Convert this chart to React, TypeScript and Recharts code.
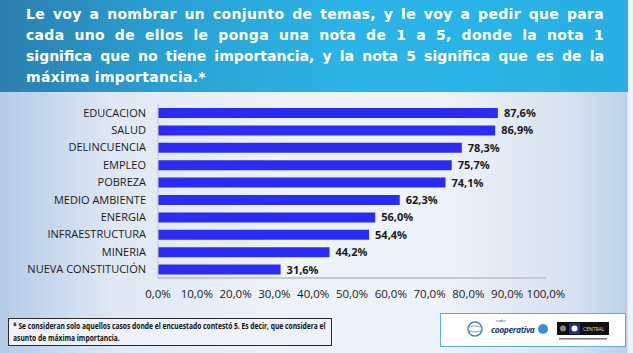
import React from 'react';
import { BarChart, Bar, XAxis, YAxis, LabelList } from 'recharts';

const temas = [
  'EDUCACION',
  'SALUD',
  'DELINCUENCIA',
  'EMPLEO',
  'POBREZA',
  'MEDIO AMBIENTE',
  'ENERGIA',
  'INFRAESTRUCTURA',
  'MINERIA',
  'NUEVA CONSTITUCIÓN',
];
const porcentajes = [87.6, 86.9, 78.3, 75.7, 74.1, 62.3, 56.0, 54.4, 44.2, 31.6];
const xTicks = [0, 10, 20, 30, 40, 50, 60, 70, 80, 90, 100];

const tituloLineas = [
  'Le voy a nombrar un conjunto de temas, y le voy a pedir que para',
  'cada uno de ellos le ponga una nota de 1 a 5, donde la nota 1',
  'significa que no tiene importancia, y la nota 5 significa que es de la',
  'máxima importancia.*',
];
const notaLineas = [
  '* Se consideran solo aquellos casos donde el encuestado contestó 5. Es decir, que considera el',
  'asunto de máxima importancia.',
];

const data = temas.map((tema, i) => ({ tema, valor: porcentajes[i] }));

const pct = (v: number) => `${Number(v).toFixed(1).replace('.', ',')}%`;

const font = "'Open Sans', 'DejaVu Sans', sans-serif";

// tick sin ajuste de línea para que "NUEVA CONSTITUCIÓN" no se parta
const CategoryTick = (props: any) => {
  const { x, y, payload } = props;
  return (
    <text x={x} y={y} dy="0.35em" textAnchor="end" fill="#1a1a1a" fontSize={11} fontFamily={font}>
      {payload.value}
    </text>
  );
};

export default function App() {
  return (
    <div
      style={{
        position: 'absolute',
        left: 0,
        top: 0,
        width: 633,
        height: 353,
        overflow: 'hidden',
        fontFamily: font,
        background: 'linear-gradient(90deg, #b3cbe8 0%, #dfe8f4 18%, #eef2f9 45%, #eef2f9 70%, #d6e2f1 90%, #bcd1ea 99%, #eef3fa 99.3%)',
      }}
    >
      {/* cabecera */}
      <div
        style={{
          position: 'absolute',
          left: 0,
          top: 0,
          width: 628,
          height: 92,
          background: 'linear-gradient(90deg, #2b7fae 0%, #2a9fd2 25%, #2cb4e6 55%, #2ab3e6 80%, #28aee2 100%)',
        }}
      />
      <div
        style={{
          position: 'absolute',
          left: 26,
          top: 4,
          width: 578,
          color: '#fff',
          fontFamily: "'DejaVu Sans', sans-serif",
          fontWeight: 700,
          fontSize: 14,
          lineHeight: '21px',
        }}
      >
        {tituloLineas.map((l, i) => (
          <div
            key={i}
            style={{
              whiteSpace: 'nowrap',
              textAlign: i < tituloLineas.length - 1 ? 'justify' : 'left',
              textAlignLast: i < tituloLineas.length - 1 ? 'justify' : 'left',
              letterSpacing: i === 2 ? 0 : 0.3,
            }}
          >
            {l}
          </div>
        ))}
      </div>

      <div style={{ position: 'absolute', left: 0, top: 0 }}>
        <BarChart
          width={633}
          height={310}
          data={data}
          layout="vertical"
          margin={{ top: 104, right: 87, bottom: 0, left: 0 }}
          barCategoryGap={0}
        >
          <XAxis
            type="number"
            domain={[0, 100]}
            ticks={xTicks}
            tickFormatter={pct}
            axisLine={{ stroke: '#c4c8cf', strokeWidth: 2 }}
            tickLine={false}
            tickSize={0}
            tickMargin={12}
            height={32}
            interval={0}
            tick={{ fill: '#1a1a1a', fontSize: 11.5, fontFamily: font }}
          />
          <YAxis
            type="category"
            dataKey="tema"
            width={158}
            axisLine={{ stroke: '#c4c8cf', strokeWidth: 1 }}
            tickLine={false}
            tickSize={0}
            tickMargin={12}
            interval={0}
            tick={<CategoryTick />}
          />
          <Bar dataKey="valor" fill="#2b2bf2" barSize={10} isAnimationActive={false}>
            <LabelList
              dataKey="valor"
              position="right"
              offset={6}
              formatter={(v: any) => pct(v)}
              style={{ fill: '#1a1a1a', fontSize: 11, fontWeight: 700, fontFamily: font }}
            />
          </Bar>
        </BarChart>
      </div>

      {/* nota al pie */}
      <div
        style={{
          position: 'absolute',
          left: 8,
          top: 318,
          width: 324,
          height: 28,
          border: '1px solid #2a2a2a',
          background: '#eef2f8',
          boxSizing: 'border-box',
          padding: '1px 4px',
          fontSize: 8.4,
          fontWeight: 700,
          lineHeight: '12px',
          color: '#111',
        }}
      >
        {notaLineas.map((l, i) => (
          <div key={i} style={{ whiteSpace: 'nowrap', transform: 'scaleX(0.8)', transformOrigin: 'left center' }}>
            {l}
          </div>
        ))}
      </div>

      {/* logos */}
      <div
        style={{
          position: 'absolute',
          left: 440,
          top: 313,
          width: 186,
          height: 34,
          border: '1px solid #5aaedc',
          background: '#ffffff',
          boxSizing: 'border-box',
        }}
      >
        <svg width={184} height={32}>
          <circle cx={34} cy={15} r={7} fill="none" stroke="#4a82b8" strokeWidth={1.5} />
          <ellipse cx={34} cy={15} rx={7} ry={3} fill="none" stroke="#7aa6d0" strokeWidth={1} />
          <text x={55} y={8} fontSize={4} fill="#24406e" fontFamily={font}>
            radio
          </text>
          <text x={50} y={19} fontSize={8.5} fontStyle="italic" fontWeight={700} fill="#24406e" fontFamily={font} letterSpacing={-0.4}>
            cooperativa
          </text>
          <circle cx={102} cy={15} r={5} fill="#3d8fd0" />
          <rect x={116} y={8} width={52} height={13} fill="#111" />
          <circle cx={122} cy={14.5} r={3} fill="#888" />
          <rect x={128} y={9} width={11} height={11} fill="#1f2a9c" />
          <circle cx={133.5} cy={14.5} r={3} fill="#fff" />
          <text x={142} y={17} fontSize={5} fill="#ddd" fontFamily={font}>
            CENTRAL
          </text>
          <rect x={118} y={24} width={48} height={1.5} fill="#777" />
        </svg>
      </div>
    </div>
  );
}
